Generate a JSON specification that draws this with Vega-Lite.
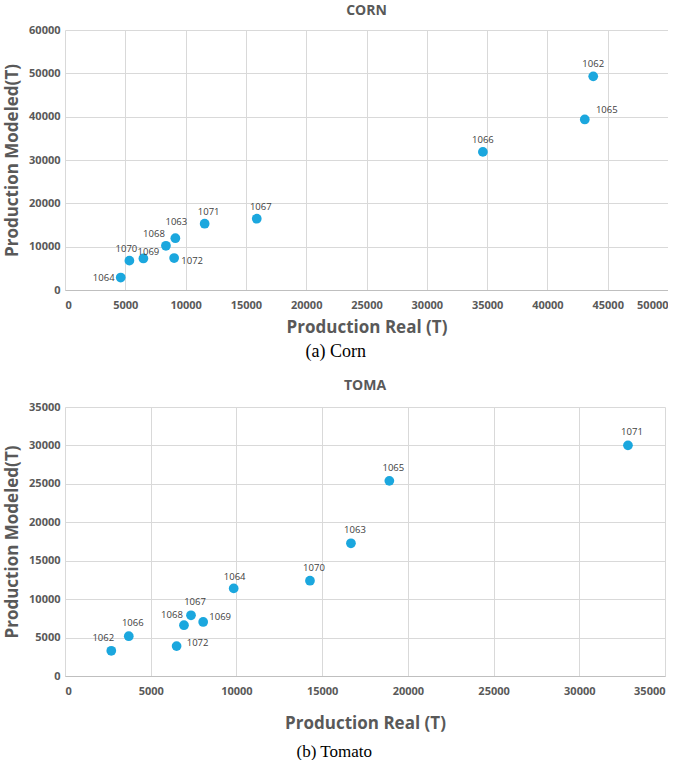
{
  "$schema": "https://vega.github.io/schema/vega-lite/v6.json",
  "padding": {"left": 3, "top": 4, "right": 0, "bottom": 0},
  "background": "white",
  "datasets": {
    "corn": [
      {"id": "1062", "real": 43800, "modeled": 49300},
      {"id": "1065", "real": 43100, "modeled": 39350},
      {"id": "1066", "real": 34650, "modeled": 31870},
      {"id": "1067", "real": 15900, "modeled": 16450},
      {"id": "1071", "real": 11580, "modeled": 15300},
      {"id": "1063", "real": 9150, "modeled": 11950},
      {"id": "1068", "real": 8370, "modeled": 10200},
      {"id": "1072", "real": 9050, "modeled": 7380},
      {"id": "1069", "real": 6500, "modeled": 7280},
      {"id": "1070", "real": 5340, "modeled": 6770},
      {"id": "1064", "real": 4620, "modeled": 2870}
    ],
    "tomato": [
      {"id": "1071", "real": 32840, "modeled": 30010},
      {"id": "1065", "real": 18920, "modeled": 25390},
      {"id": "1063", "real": 16680, "modeled": 17270},
      {"id": "1070", "real": 14290, "modeled": 12400},
      {"id": "1064", "real": 9840, "modeled": 11400},
      {"id": "1067", "real": 7350, "modeled": 7900},
      {"id": "1069", "real": 8060, "modeled": 7030},
      {"id": "1068", "real": 6940, "modeled": 6610},
      {"id": "1066", "real": 3720, "modeled": 5180},
      {"id": "1072", "real": 6510, "modeled": 3890},
      {"id": "1062", "real": 2700, "modeled": 3280}
    ]
  },
  "spacing": 18,
  "vconcat": [
    {
      "title": {"text": "(a) Corn", "orient": "bottom", "font": "Liberation Serif", "fontWeight": "normal", "fontSize": 18, "color": "#000000", "offset": 8},
      "vconcat": [
        {
          "title": {"text": "CORN", "offset": 6},
          "width": 603,
          "height": 260,
          "data": {"name": "corn"},
          "encoding": {
            "x": {"field": "real", "type": "quantitative", "scale": {"domain": [0, 50000], "nice": false},
                  "axis": {"title": "Production Real (T)", "format": "d", "values": [0,5000,10000,15000,20000,25000,30000,35000,40000,45000,50000], "labelPadding": 9, "titlePadding": 9}},
            "y": {"field": "modeled", "type": "quantitative", "scale": {"domain": [0, 60000], "nice": false},
                  "axis": {"title": "Production Modeled(T)", "format": "d", "values": [0,10000,20000,30000,40000,50000,60000], "titlePadding": 7}}
          },
          "layer": [
            {"mark": {"type": "point", "filled": true, "size": 95, "color": "#1ba7de", "opacity": 1}},
            {"transform": [{"filter": {"field": "id", "oneOf": ["1062", "1066"]}}], "mark": {"type": "text", "dx": 0, "dy": -12}, "encoding": {"text": {"field": "id"}}},
            {"transform": [{"filter": {"field": "id", "oneOf": ["1067", "1071"]}}], "mark": {"type": "text", "dx": 4, "dy": -12}, "encoding": {"text": {"field": "id"}}},
            {"transform": [{"filter": {"field": "id", "equal": "1070"}}], "mark": {"type": "text", "dx": -3, "dy": -12}, "encoding": {"text": {"field": "id"}}},
            {"transform": [{"filter": {"field": "id", "equal": "1063"}}], "mark": {"type": "text", "dx": 1, "dy": -16}, "encoding": {"text": {"field": "id"}}},
            {"transform": [{"filter": {"field": "id", "equal": "1065"}}], "mark": {"type": "text", "dx": 22, "dy": -9}, "encoding": {"text": {"field": "id"}}},
            {"transform": [{"filter": {"field": "id", "equal": "1068"}}], "mark": {"type": "text", "dx": -12, "dy": -12}, "encoding": {"text": {"field": "id"}}},
            {"transform": [{"filter": {"field": "id", "equal": "1069"}}], "mark": {"type": "text", "dx": 5, "dy": -6}, "encoding": {"text": {"field": "id"}}},
            {"transform": [{"filter": {"field": "id", "equal": "1072"}}], "mark": {"type": "text", "dx": 18, "dy": 3}, "encoding": {"text": {"field": "id"}}},
            {"transform": [{"filter": {"field": "id", "equal": "1064"}}], "mark": {"type": "text", "dx": -17, "dy": 0}, "encoding": {"text": {"field": "id"}}}
          ]
        }
      ]
    },
    {
      "title": {"text": "(b) Tomato", "orient": "bottom", "font": "Liberation Serif", "fontWeight": "normal", "fontSize": 17, "color": "#000000", "offset": 13},
      "vconcat": [
        {
          "title": {"text": "TOMA", "offset": 8},
          "width": 600,
          "height": 269,
          "data": {"name": "tomato"},
          "encoding": {
            "x": {"field": "real", "type": "quantitative", "scale": {"domain": [0, 35000], "nice": false},
                  "axis": {"title": "Production Real (T)", "format": "d", "values": [0,5000,10000,15000,20000,25000,30000,35000], "labelPadding": 9, "titlePadding": 19}},
            "y": {"field": "modeled", "type": "quantitative", "scale": {"domain": [0, 35000], "nice": false},
                  "axis": {"title": "Production Modeled(T)", "format": "d", "values": [0,5000,10000,15000,20000,25000,30000,35000], "titlePadding": 7}}
          },
          "layer": [
            {"mark": {"type": "point", "filled": true, "size": 95, "color": "#1ba7de", "opacity": 1}},
            {"transform": [{"filter": {"field": "id", "oneOf": ["1071", "1063", "1067", "1070", "1065", "1066"]}}], "mark": {"type": "text", "dx": 4, "dy": -13}, "encoding": {"text": {"field": "id"}}},
            {"transform": [{"filter": {"field": "id", "equal": "1064"}}], "mark": {"type": "text", "dx": 1, "dy": -11}, "encoding": {"text": {"field": "id"}}},
            {"transform": [{"filter": {"field": "id", "equal": "1068"}}], "mark": {"type": "text", "dx": -12, "dy": -10}, "encoding": {"text": {"field": "id"}}},
            {"transform": [{"filter": {"field": "id", "equal": "1069"}}], "mark": {"type": "text", "dx": 17, "dy": -5}, "encoding": {"text": {"field": "id"}}},
            {"transform": [{"filter": {"field": "id", "equal": "1062"}}], "mark": {"type": "text", "dx": -8, "dy": -13}, "encoding": {"text": {"field": "id"}}},
            {"transform": [{"filter": {"field": "id", "equal": "1072"}}], "mark": {"type": "text", "dx": 21, "dy": -3}, "encoding": {"text": {"field": "id"}}}
          ]
        }
      ]
    }
  ],
  "config": {
    "view": {"stroke": null},
    "text": {"font": "Open Sans", "fontSize": 9.5, "color": "#404040", "align": "center", "baseline": "middle"},
    "axis": {
      "labelFont": "Open Sans", "labelFontWeight": "bold", "labelFontSize": 11, "labelColor": "#595959",
      "titleFont": "Open Sans", "titleFontWeight": "bold", "titleFontSize": 17, "titleColor": "#595959",
      "gridColor": "#d9d9d9", "gridWidth": 1, "ticks": false, "domain": false, "labelPadding": 5
    },
    "axisX": {"domain": true, "domainColor": "#bfbfbf"},
    "title": {"font": "Open Sans", "fontWeight": "bold", "fontSize": 14, "color": "#595959", "anchor": "middle"}
  }
}
